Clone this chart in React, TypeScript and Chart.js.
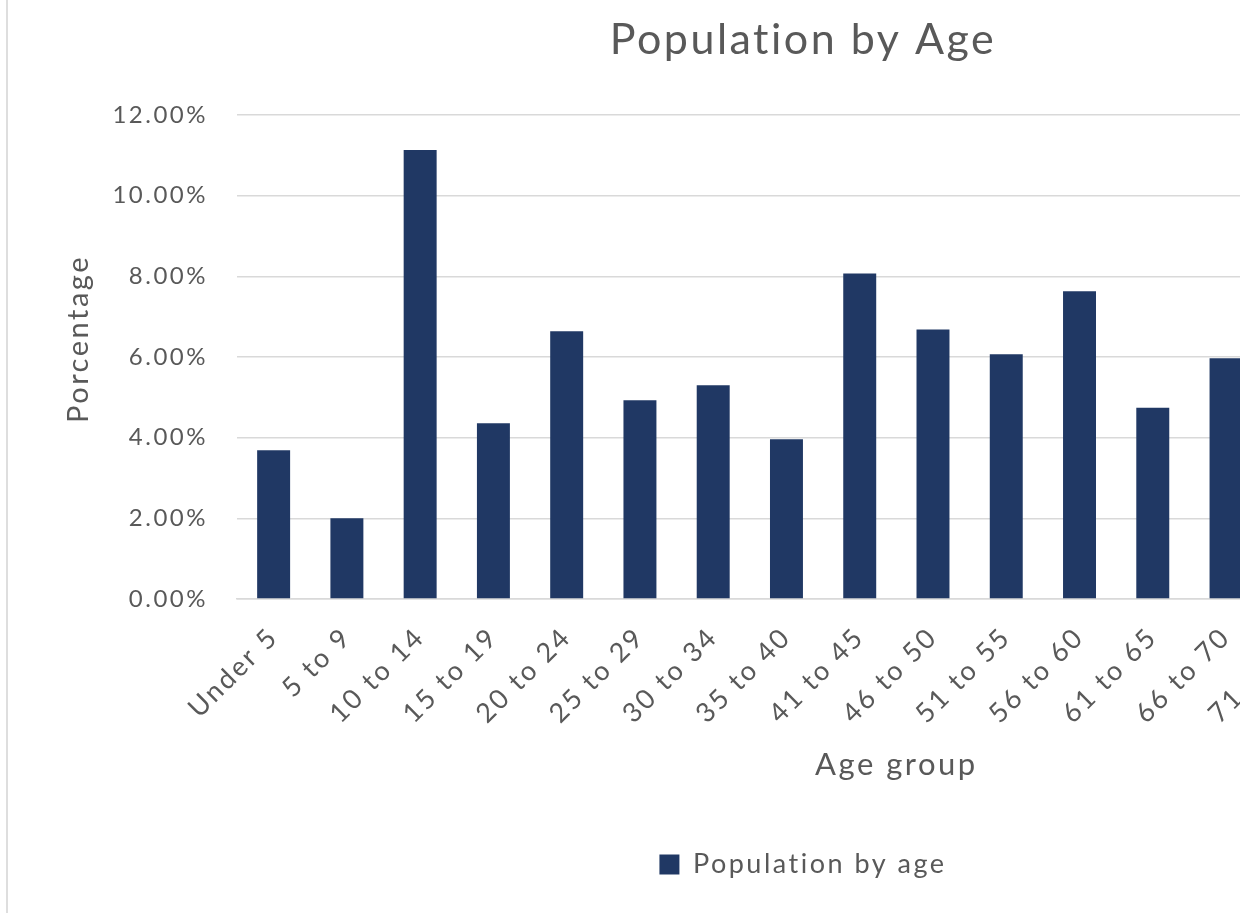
import React, { useEffect, useRef } from "react";
import { Chart, registerables } from "chart.js";

Chart.register(...registerables);

// Age brackets along the category axis
const ageGroups: string[] = [
  "Under 5",
  "5 to 9",
  "10 to 14",
  "15 to 19",
  "20 to 24",
  "25 to 29",
  "30 to 34",
  "35 to 40",
  "41 to 45",
  "46 to 50",
  "51 to 55",
  "56 to 60",
  "61 to 65",
  "66 to 70",
  "71 to 75",
  "76 to 80",
  "81 to 85",
  "86 and over",
];

// Share of the population in each bracket, in percent
const populationShare: (number | null)[] = [
  3.69, 2.0, 11.13, 4.36, 6.64, 4.93, 5.3, 3.96, 8.07, 6.68, 6.07, 7.63, 4.74,
  5.97, null, null, null, null,
];

// Value axis range and tick step, in percent
const yAxisMax = 12;
const yAxisStep = 2;
const yAxisTitle = "Porcentage";

const FONT = "Lato, 'Open Sans', sans-serif";
const TEXT = "#595959";
const GRID = "#d9d9d9";
const BAR = "#203864";
const LETTER_SPACING = "2.5px";

// Office-style text is set a little looser than the canvas default
const spacingPlugin = {
  id: "looseText",
  beforeUpdate(chart: any) {
    chart.ctx.letterSpacing = LETTER_SPACING;
  },
  beforeLayout(chart: any) {
    chart.ctx.letterSpacing = LETTER_SPACING;
  },
  beforeDraw(chart: any) {
    chart.ctx.letterSpacing = LETTER_SPACING;
  },
};

// Vertical axis title, placed a little above the middle of the plot
const yTitlePlugin = {
  id: "yAxisTitle",
  afterDraw(chart: any) {
    const { ctx, chartArea } = chart;
    const cx = 71;
    const cy = (chartArea.top + chartArea.bottom) / 2 - 18;
    ctx.save();
    ctx.letterSpacing = LETTER_SPACING;
    ctx.translate(cx, cy);
    ctx.rotate(-Math.PI / 2);
    ctx.font = `29px ${FONT}`;
    ctx.fillStyle = TEXT;
    ctx.textAlign = "center";
    ctx.textBaseline = "middle";
    ctx.fillText(yAxisTitle, 0, 0);
    ctx.restore();
  },
};

function PopulationChart() {
  const canvasRef = useRef<HTMLCanvasElement | null>(null);

  useEffect(() => {
    const canvas = canvasRef.current;
    if (!canvas) return;

    const chart = new Chart(canvas, {
      type: "bar",
      data: {
        labels: ageGroups,
        datasets: [
          {
            label: "Population by age",
            data: populationShare,
            backgroundColor: BAR,
            borderWidth: 0,
            categoryPercentage: 1,
            barPercentage: 0.45,
          },
        ],
      },
      plugins: [spacingPlugin, yTitlePlugin],
      options: {
        responsive: false,
        animation: false,
        events: [],
        layout: { padding: { left: 42, right: 0, top: 0, bottom: 26 } },
        plugins: {
          title: {
            display: true,
            text: "Population by Age",
            color: TEXT,
            font: { family: FONT, size: 43, weight: "normal" },
            padding: { top: 14, bottom: 49.4 },
          },
          legend: {
            display: true,
            position: "bottom",
            labels: {
              color: TEXT,
              font: { family: FONT, size: 27 },
              boxWidth: 20,
              boxHeight: 20,
              padding: 67,
            },
          },
          tooltip: { enabled: false },
        },
        scales: {
          x: {
            grid: { display: false },
            border: { display: true, color: GRID, width: 1.5 },
            ticks: {
              color: TEXT,
              font: { family: FONT, size: 27 },
              minRotation: 45,
              maxRotation: 45,
              autoSkip: false,
              padding: 14,
            },
            title: {
              display: true,
              text: "Age group",
              color: TEXT,
              font: { family: FONT, size: 31 },
              padding: { top: 0, bottom: 0 },
            },
            afterFit: (scale: any) => {
              scale.height = 185;
            },
          },
          y: {
            min: 0,
            max: yAxisMax,
            ticks: {
              stepSize: yAxisStep,
              color: TEXT,
              font: { family: FONT, size: 24 },
              padding: 29,
              callback: (v: any) => Number(v).toFixed(2) + "%",
            },
            grid: { color: GRID, lineWidth: 1.5, drawTicks: false },
            border: { display: false },
            title: { display: false },
            afterFit: (scale: any) => {
              scale.width = 187;
            },
          },
        },
      },
    } as any);

    return () => chart.destroy();
  }, []);

  return (
    <canvas
      ref={canvasRef}
      width={1548}
      height={914}
      style={{ position: "absolute", left: 8, top: 0, width: 1548, height: 914 }}
    />
  );
}

export default function App() {
  return (
    <div
      style={{
        position: "fixed",
        left: 0,
        top: 0,
        width: 1240,
        height: 914,
        overflow: "hidden",
        background: "#ffffff",
      }}
    >
      <div
        style={{
          position: "absolute",
          left: 6,
          top: 0,
          width: 2,
          height: 913,
          background: "#dedede",
        }}
      />
      <PopulationChart />
    </div>
  );
}
